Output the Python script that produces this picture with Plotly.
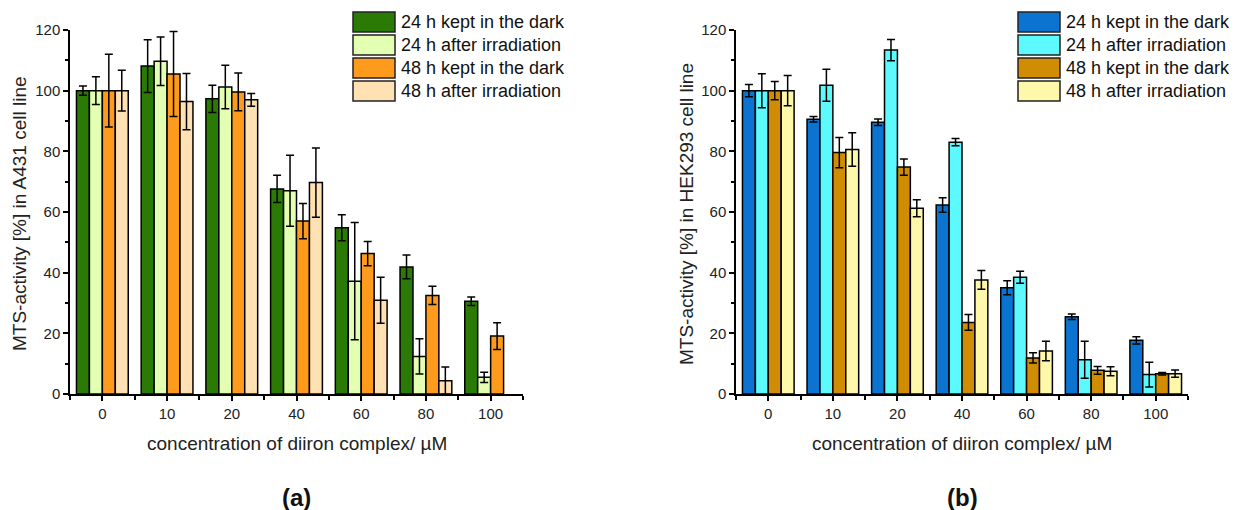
import plotly.graph_objects as go

# ---------------- data ----------------
concentrations = ["0", "10", "20", "40", "60", "80", "100"]
series_names = ["24 h kept in the dark", "24 h after irradiation",
                "48 h kept in the dark", "48 h after irradiation"]

# Panel (a): A431 cell line
a431_24_dark = [100.0, 108.1, 97.3, 67.6, 54.8, 41.9, 30.6]
a431_24_dark_err = [1.5, 8.7, 4.5, 4.5, 4.3, 3.9, 1.4]
a431_24_irr = [100.0, 109.7, 101.2, 67.0, 37.2, 12.4, 5.5]
a431_24_irr_err = [4.6, 8.0, 7.2, 11.7, 19.3, 5.8, 1.7]
a431_48_dark = [100.0, 105.5, 99.6, 57.0, 46.3, 32.5, 19.1]
a431_48_dark_err = [12.0, 14.0, 6.2, 5.8, 4.0, 3.0, 4.4]
a431_48_irr = [100.0, 96.4, 97.0, 69.7, 30.9, 4.4, None]
a431_48_irr_err = [6.7, 9.3, 2.1, 11.4, 7.6, 4.5, None]

# Panel (b): HEK293 cell line
hek_24_dark = [100.0, 90.6, 89.6, 62.3, 35.0, 25.5, 17.7]
hek_24_dark_err = [2.0, 0.9, 1.1, 2.4, 2.3, 0.9, 1.2]
hek_24_irr = [100.0, 101.8, 113.4, 83.0, 38.5, 11.3, 6.4]
hek_24_irr_err = [5.6, 5.3, 3.5, 1.2, 2.0, 6.1, 4.1]
hek_48_dark = [100.0, 79.6, 74.8, 23.6, 11.9, 7.8, 6.7]
hek_48_dark_err = [3.0, 5.0, 2.7, 2.6, 1.7, 1.3, 0.4]
hek_48_irr = [100.0, 80.6, 61.2, 37.6, 14.2, 7.5, 6.7]
hek_48_irr_err = [5.0, 5.5, 2.8, 3.1, 3.2, 1.5, 1.2]

y_ticks = [0, 20, 40, 60, 80, 100, 120]

colors_a = ["#2b7a06", "#e2ffb2", "#ff9b1c", "#ffe1b3"]
colors_b = ["#0a74d0", "#5cf9ff", "#d08c02", "#fff7aa"]

panel_a = [(a431_24_dark, a431_24_dark_err), (a431_24_irr, a431_24_irr_err),
           (a431_48_dark, a431_48_dark_err), (a431_48_irr, a431_48_irr_err)]
panel_b = [(hek_24_dark, hek_24_dark_err), (hek_24_irr, hek_24_irr_err),
           (hek_48_dark, hek_48_dark_err), (hek_48_irr, hek_48_irr_err)]

W, H = 1241, 510
FONT = "Liberation Sans, Arial, sans-serif"

fig = go.Figure()
xpos = list(range(len(concentrations)))

for panel, colors, xa, ya in [(panel_a, colors_a, "x", "y"), (panel_b, colors_b, "x2", "y2")]:
    for (vals, errs), col, name in zip(panel, colors, series_names):
        fig.add_trace(go.Bar(
            x=xpos, y=vals, name=name, xaxis=xa, yaxis=ya,
            marker=dict(color=col, line=dict(color="black", width=1.5)),
            error_y=dict(type="data", array=errs, color="black", thickness=1.5, width=4),
            showlegend=False,
        ))

def px(x):
    return x / W

def py(y):
    return 1 - y / H

axis_common = dict(
    showline=True, linecolor="black", linewidth=1.5, mirror=False,
    showgrid=False, zeroline=False, automargin=False,
    ticks="outside", ticklen=5, tickwidth=1.5, tickcolor="black",
    tickfont=dict(family=FONT, size=15, color="#222"),
)

xdom_a = [px(70), px(523)]
xdom_b = [px(736), px(1188)]
ydom = [py(394), py(30)]

minor_x = dict(tickmode="array", tickvals=[i - 0.5 for i in range(len(concentrations) + 1)],
               ticklen=4, tickwidth=1.5, tickcolor="black", ticks="outside")
minor_y = dict(tickmode="array", tickvals=[10, 30, 50, 70, 90, 110],
               ticklen=3, tickwidth=1.5, tickcolor="black", ticks="outside")

fig.update_layout(
    template="none",
    width=W, height=H, margin=dict(l=0, r=0, t=0, b=0, pad=0, autoexpand=False),
    paper_bgcolor="white", plot_bgcolor="white", showlegend=False,
    barmode="group", bargap=0.2, bargroupgap=0.0,
    font=dict(family=FONT, color="#222"),
    xaxis=dict(domain=xdom_a, anchor="y", range=[-0.5, 6.5], tickmode="array",
               tickvals=xpos, ticktext=concentrations, minor=minor_x, **axis_common),
    yaxis=dict(domain=ydom, anchor="x", range=[0, 120], tickmode="array",
               tickvals=y_ticks, minor=minor_y, **axis_common),
    xaxis2=dict(domain=xdom_b, anchor="y2", range=[-0.5, 6.5], tickmode="array",
                tickvals=xpos, ticktext=concentrations, minor=minor_x, **axis_common),
    yaxis2=dict(domain=ydom, anchor="x2", range=[0, 120], tickmode="array",
                tickvals=y_ticks, minor=minor_y, **axis_common),
)

annotations = []
shapes = []

# axis titles and panel labels
for xd, ytitle, label, ytx in [(xdom_a, "MTS-activity [%] in A431 cell line", "(a)", 19),
                               (xdom_b, "MTS-activity [%] in HEK293 cell line", "(b)", 686)]:
    cx = (xd[0] + xd[1]) / 2
    annotations.append(dict(x=cx, y=py(443), xref="paper", yref="paper", showarrow=False,
                            text="concentration of diiron complex/ µM",
                            font=dict(family=FONT, size=19, color="#222"),
                            xanchor="center", yanchor="middle"))
    annotations.append(dict(x=cx, y=py(497), xref="paper", yref="paper", showarrow=False,
                            text="<b>" + label + "</b>",
                            font=dict(family=FONT, size=24, color="#111"),
                            xanchor="center", yanchor="middle"))
    annotations.append(dict(x=px(ytx), y=py(214), xref="paper", yref="paper", showarrow=False,
                            text=ytitle, textangle=-90,
                            font=dict(family=FONT, size=19, color="#222"),
                            xanchor="center", yanchor="middle"))

# legends (drawn as swatches + text)
row_tops = [12, 35, 58, 81]
for x0, colors in [(353, colors_a), (1018, colors_b)]:
    for top, col, name in zip(row_tops, colors, series_names):
        shapes.append(dict(type="rect", xref="paper", yref="paper",
                           x0=px(x0), x1=px(x0 + 42), y0=py(top + 20), y1=py(top),
                           fillcolor=col, line=dict(color="#222", width=1.5)))
        annotations.append(dict(x=px(x0 + 46), y=py(top + 10), xref="paper", yref="paper",
                                showarrow=False, text=name, xanchor="left", yanchor="middle",
                                font=dict(family=FONT, size=18, color="#111")))

fig.update_layout(annotations=annotations, shapes=shapes)

fig.write_html(
    "out.html",
    config={"displayModeBar": False},
    post_script="document.body.style.margin='0';document.body.style.overflow='hidden';",
)
